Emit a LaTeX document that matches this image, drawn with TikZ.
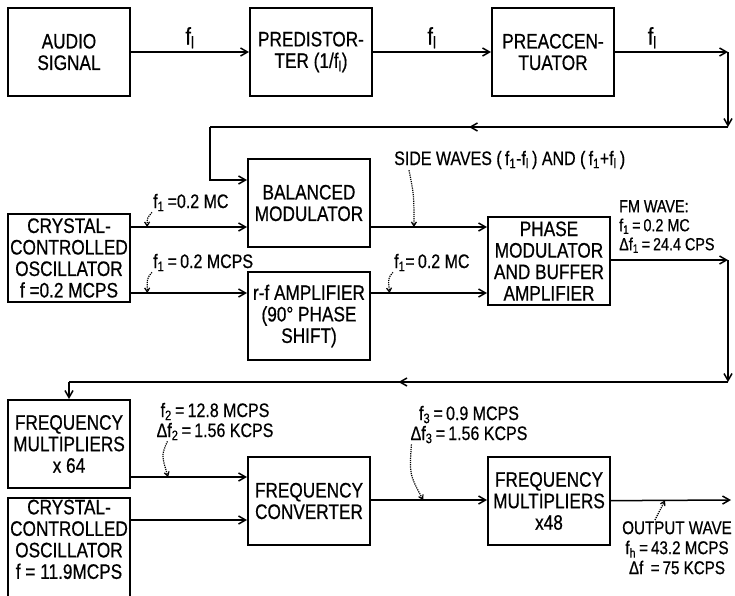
\documentclass[tikz,border=0pt]{standalone}
\usepackage{fontspec}
\setmainfont[FakeStretch=0.82, FakeBold=0.6]{Liberation Sans}
\usepackage{tikz}
\usetikzlibrary{positioning, arrows.meta, calc, decorations.markings}

\begin{document}
\begin{tikzpicture}[x=1pt, y=-1pt,
  blockbox/.style={draw, line width=2pt, minimum width=122pt, minimum height=88pt,
    align=center, inner sep=2pt, font=\fontsize{21}{21.5}\selectfont},
  sig/.style={-{Straight Barb[length=7pt,width=8pt]}, line width=1.5pt},
  midsig/.style={line width=1.5pt, postaction={decorate}, decoration={markings,
    mark=at position 0.5 with {\arrow{Straight Barb[length=7pt,width=8pt]}}}},
  tag/.style={font=\fontsize{19.5}{20}\selectfont, inner sep=1pt},
  ftag/.style={font=\fontsize{24}{24}\selectfont, inner sep=1pt},
  pointer/.style={densely dotted, line width=1.2pt, -{Straight Barb[length=4pt,width=5pt]}}]
  \useasboundingbox (0,0) rectangle (735,595);

  \node[blockbox] (audio) at (69,52) {AUDIO\\SIGNAL};
  \node[blockbox, right=118pt of audio] (predist) {PREDISTOR-\\TER (1/f\textsubscript{l})};
  \node[blockbox, right=118pt of predist] (preacc) {PREACCEN-\\TUATOR};
  \node[blockbox] (balmod) at (309,203) {BALANCED\\MODULATOR};
  \node[blockbox] (xtal) at (69,258) {CRYSTAL-\\CONTROLLED\\OSCILLATOR\\f =0.2 MCPS};
  \node[blockbox] (rfamp) at (309,316) {r-f AMPLIFIER\\(90° PHASE\\SHIFT)};
  \node[blockbox] (phasemod) at (549,261) {PHASE\\MODULATOR\\AND BUFFER\\AMPLIFIER};
  \node[blockbox] (mult64) at (69,444) {FREQUENCY\\MULTIPLIERS\\x 64};
  \node[blockbox, minimum height=96pt] (xtal2) at (69,553)
    {CRYSTAL-\\CONTROLLED\\OSCILLATOR\\f = 11.9MCPS\\[6pt]};
  \node[blockbox] (conv) at (309,501) {FREQUENCY\\CONVERTER};
  \node[blockbox] (mult48) at (549,501) {FREQUENCY\\MULTIPLIERS\\x48};

  \coordinate (ne1) at (728,52);
  \coordinate (se1) at (728,127);
  \coordinate (sw1) at (210,127);
  \coordinate (in1) at (210,180);
  \coordinate (ne2) at (728,260);
  \coordinate (se2) at (728,382);
  \coordinate (sw2) at (69,382);
  \coordinate (outend) at (731,500);

  \draw[sig] (audio) -- node[ftag, above=2pt] {f\textsubscript{l}} (predist);
  \draw[sig] (predist) -- node[ftag, above=2pt] {f\textsubscript{l}} (preacc);
  \draw[sig] (preacc) -- node[ftag, above=2pt, pos=0.33] {f\textsubscript{l}} (ne1);
  \draw[sig] (ne1) -- (se1);
  \draw[midsig] (se1) -- (sw1);
  \draw[sig] (sw1) -- (in1) -- (balmod.west |- in1);

  \draw[sig] (xtal.east |- 0,227) -- coordinate[pos=0.14] (p1) (balmod.west |- 0,227);
  \draw[sig] (xtal.east |- 0,293) -- coordinate[pos=0.14] (p2) (rfamp.west |- 0,293);
  \draw[sig] (balmod.east |- 0,227) -- coordinate[pos=0.37] (p3) (phasemod.west |- 0,227);
  \draw[sig] (rfamp.east |- 0,293) -- coordinate[pos=0.16] (p4) (phasemod.west |- 0,293);

  \draw[sig] (phasemod.east |- ne2) -- (ne2);
  \draw[sig] (ne2) -- (se2);
  \draw[midsig] (se2) -- (sw2);
  \draw[sig] (sw2) -- (mult64);

  \draw[sig] (mult64.east |- 0,477) -- coordinate[pos=0.32] (p5) (conv.west |- 0,477);
  \draw[sig] (xtal2.east |- 0,520) -- (conv.west |- 0,520);
  \draw[sig] (conv.east |- 0,500) -- coordinate[pos=0.45] (p6) (mult48.west |- 0,500);
  \draw[sig] (mult48) -- coordinate[pos=0.45] (p7) (outend);

  \node[tag, anchor=base west] (lf1) at (152,208) {f\textsubscript{1}\,=0.2 MC};
  \node[tag, anchor=base west] (lf2) at (152,268) {f\textsubscript{1}\,=\,0.2 MCPS};
  \node[tag, anchor=base west] (side) at (393,165)
    {SIDE WAVES (\,f\textsubscript{1}-f\textsubscript{l}\,) AND (\,f\textsubscript{1}+f\textsubscript{l}\,)};
  \node[tag, anchor=base west] (lf4) at (393,268) {f\textsubscript{1}=\,0.2 MC};
  \node[tag, anchor=north west, align=left, font=\fontsize{17.5}{19}\selectfont] (fmwave) at (618,199)
    {FM WAVE:\\f\textsubscript{1}\,=\,0.2 MC\\Δf\textsubscript{1}\,=\,24.4 CPS};
  \node[tag, anchor=base, align=center] (lf5) at (215,437)
    {f\textsubscript{2}\,=\,12.8 MCPS\\Δf\textsubscript{2}\,=\,1.56 KCPS};
  \node[tag, anchor=base, align=center] (lf6) at (469,440)
    {f\textsubscript{3}\,=\,0.9 MCPS\\Δf\textsubscript{3}\,=\,1.56 KCPS};
  \node[tag, anchor=north, align=center, font=\fontsize{18.5}{20}\selectfont] (outwave) at (677,520)
    {OUTPUT WAVE\\f\textsubscript{h}\,=\,43.2 MCPS\\Δf\, =\,75 KCPS};

  \draw[pointer] (lf1.south west) .. controls +(-5,6) .. (p1);
  \draw[pointer] (lf2.south west) .. controls +(-5,6) .. (p2);
  \draw[pointer] ([xshift=16pt]side.south west) .. controls +(5,25) .. (p3);
  \draw[pointer] (lf4.south west) .. controls +(-5,6) .. (p4);
  \draw[pointer] ([xshift=12pt]lf5.south west) .. controls +(-6,14) .. (p5);
  \draw[pointer] ([xshift=2pt]lf6.south west) .. controls +(-2,30) .. (p6);
  \draw[pointer] ([xshift=-22pt]outwave.north) .. controls +(4,-8) .. (p7);
\end{tikzpicture}
\end{document}
